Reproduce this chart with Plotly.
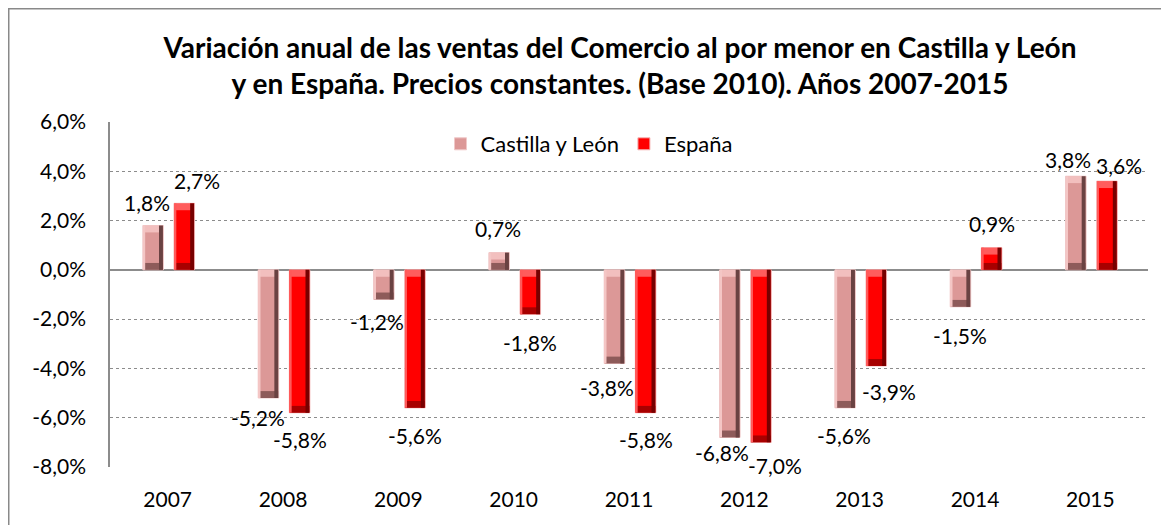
import numpy as np
import plotly.graph_objects as go

# ---- data ----
years = ["2007", "2008", "2009", "2010", "2011", "2012", "2013", "2014", "2015"]
castilla = [1.8, -5.2, -1.2, 0.7, -3.8, -6.8, -5.6, -1.5, 3.8]
espana = [2.7, -5.8, -5.6, -1.8, -5.8, -7.0, -3.9, 0.9, 3.6]
ytick_vals = [6, 4, 2, 0, -2, -4, -6, -8]
ytick_text = ["6,0%", "4,0%", "2,0%", "0,0%", "-2,0%", "-4,0%", "-6,0%", "-8,0%"]
title_text = ("Variación anual de las ventas del Comercio al por menor en Castilla y León<br>"
              "y en España. Precios constantes. (Base 2010). Años 2007-2015")

# label nudges (pixels) to mimic hand-placed labels
cyl_dx = [-6, -10, -7, -1, -7, -8, -1, 0, -8]
cyl_dy = [23, 19, 22, 24, 24, 15, 28, 29, 17]
esp_dx = [13, 0, 0, 0, 0, 14, 13, 0, 12]
esp_dy = [23, 27, 28, 28, 27, 23, 26, 24, 16]

FONT = "Lato, 'Open Sans', Arial, sans-serif"
xs = np.arange(len(years))
W = 0.178
series = [
    dict(name="Castilla y León", vals=castilla, off=-0.215,
         face="#DC9897", light="#F4C6C5", dark="#6A4242", top="#F2BFBE", bot="#8E5B5A", edge="#F0C8C8",
         dx=cyl_dx, dy=cyl_dy),
    dict(name="España", vals=espana, off=0.055,
         face="#FF0000", light="#FF5A5A", dark="#780000", top="#FF5C5C", bot="#A80000", edge="#F4B4B4",
         dx=esp_dx, dy=esp_dy),
]

fig = go.Figure()
annotations = []
cap = 0.28
for s in series:
    v = np.array(s["vals"], dtype=float)
    fig.add_trace(go.Bar(x=xs, y=v, width=W, offset=s["off"], name=s["name"],
                         marker=dict(color=s["face"], line=dict(color=s["edge"], width=1))))
    # bevel: top and bottom caps
    fig.add_trace(go.Bar(x=xs, y=np.full(len(v), cap), base=np.maximum(v, 0) - cap,
                         width=W - 0.01, offset=s["off"] + 0.005, showlegend=False, hoverinfo="skip",
                         marker=dict(color=s["top"], line=dict(width=0))))
    fig.add_trace(go.Bar(x=xs, y=np.full(len(v), cap), base=np.minimum(v, 0),
                         width=W - 0.01, offset=s["off"] + 0.005, showlegend=False, hoverinfo="skip",
                         marker=dict(color=s["bot"], line=dict(width=0))))
    # bevel: side strips
    fig.add_trace(go.Bar(x=xs, y=v, width=0.034, offset=s["off"] + W - 0.034 - 0.004,
                         showlegend=False, hoverinfo="skip", marker=dict(color=s["dark"], line=dict(width=0))))
    fig.add_trace(go.Bar(x=xs, y=v, width=0.016, offset=s["off"] + 0.004,
                         showlegend=False, hoverinfo="skip", marker=dict(color=s["light"], line=dict(width=0))))
    for i, val in enumerate(v):
        sign = 1 if val >= 0 else -1
        annotations.append(dict(
            x=xs[i] + s["off"] + W / 2, y=val, xref="x", yref="y",
            text=f"{val:.1f}%".replace(".", ","), showarrow=False,
            xshift=s["dx"][i], yshift=sign * s["dy"][i],
            xanchor="center", yanchor="middle",
            font=dict(family=FONT, size=21, color="#000000")))

# page body has an 8px margin, so the figure is laid out in coordinates shifted by 8px
FW, FH = 1161, 517
L, R, T, B = 102, 21, 114, 58
plot_w = FW - L - R
plot_h = FH - T - B

def px_x(p):
    return (p - L) / plot_w

def px_y(p):
    return (FH - B - p) / plot_h

fig.update_layout(
    width=FW, height=FH,
    margin=dict(l=L, r=R, t=T, b=B),
    paper_bgcolor="white", plot_bgcolor="white",
    barmode="overlay",
    font=dict(family=FONT, size=21, color="#000000"),
    title=dict(text=title_text, x=612 / FW, xanchor="center", xref="container",
               y=1 - 50 / FH, yanchor="middle",
               font=dict(family=FONT, size=28, color="#000000", weight="bold")),
    showlegend=True,
    legend=dict(orientation="h", x=px_x(581), xanchor="center", y=px_y(136), yanchor="middle",
                font=dict(family=FONT, size=22), bgcolor="rgba(0,0,0,0)",
                itemclick=False, tracegroupgap=0),
    xaxis=dict(range=[-0.5, len(years) - 0.5], tickvals=xs, ticktext=years,
               showgrid=False, zeroline=False, showline=False,
               ticks="outside", ticklen=14, tickcolor="rgba(0,0,0,0)",
               tickfont=dict(family=FONT, size=21), fixedrange=True),
    yaxis=dict(range=[-8, 6], tickvals=ytick_vals, ticktext=ytick_text,
               showgrid=True, gridcolor="#8C8C8C", griddash="dot", gridwidth=1,
               zeroline=True, zerolinecolor="#8C8C8C", zerolinewidth=2,
               showline=True, linecolor="#8C8C8C", linewidth=1.5,
               ticks="outside", ticklen=18, tickcolor="rgba(0,0,0,0)",
               tickfont=dict(family=FONT, size=21), fixedrange=True),
    annotations=annotations,
    shapes=[dict(type="rect", xref="paper", yref="paper",
                 x0=px_x(0.75), x1=px_x(1200), y0=px_y(560), y1=px_y(0.75),
                 line=dict(color="#898989", width=1.5), fillcolor="rgba(0,0,0,0)", layer="below")],
)

fig.write_html("out.html")
